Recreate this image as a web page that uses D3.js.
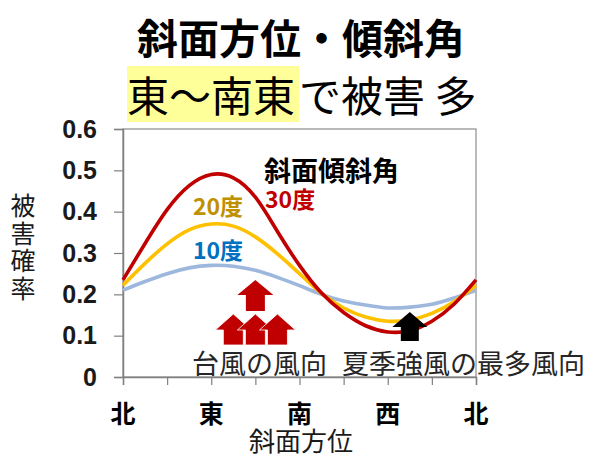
<!DOCTYPE html>
<html>
<head>
<meta charset="utf-8">
<script src="https://cdn.jsdelivr.net/npm/d3@7"></script>
<style>
  body { margin: 0; background: #fff; }
  text { font-family: "Noto Sans CJK JP", "Noto Sans", sans-serif; }
</style>
</head>
<body>
<svg id="chart" width="596" height="458"></svg>
<script>
// aspect in degrees (0 = north)
var aspects = [0, 22.5, 45, 67.5, 90, 112.5, 135, 157.5, 180, 202.5, 225, 247.5, 270, 292.5, 315, 337.5, 360];

var slope30 = [0.235, 0.323, 0.405, 0.463, 0.49, 0.482, 0.435, 0.352, 0.27, 0.203, 0.156, 0.124, 0.109, 0.112, 0.135, 0.176, 0.235];
var slope20 = [0.222, 0.275, 0.322, 0.356, 0.37, 0.365, 0.339, 0.298, 0.25, 0.202, 0.167, 0.145, 0.135, 0.138, 0.154, 0.182, 0.222];
var slope10 = [0.21, 0.231, 0.25, 0.264, 0.27, 0.268, 0.258, 0.241, 0.221, 0.2, 0.184, 0.174, 0.167, 0.169, 0.176, 0.191, 0.21];

var xTickVals = [0, 45, 90, 135, 180, 225, 270, 315, 360];
var dirLabels = [[0, "北"], [90, "東"], [180, "南"], [270, "西"], [360, "北"]];
var yTicks = [0, 0.1, 0.2, 0.3, 0.4, 0.5, 0.6];

var typhoonTop = [135];
var typhoonRow = [112.5, 135, 157.5];
var summerDir = [292.5];

var svg = d3.select("#chart");

var pL = 123, pR = 476, pT = 129, pB = 377;

var x = d3.scaleLinear().domain([0, 360]).range([pL, pR]);
var y = d3.scaleLinear().domain([0, 0.6]).range([pB, pT]);

// titles
svg.append("text")
    .attr("x", 301).attr("y", 36)
    .attr("text-anchor", "middle").attr("dominant-baseline", "central")
    .style("font-size", "41px").style("font-weight", "bold")
    .text("斜面方位・傾斜角");

var hl = svg.append("rect").attr("fill", "#FFFF99");
var sub1 = svg.append("text")
    .attr("x", 127).attr("y", 93)
    .attr("dominant-baseline", "central")
    .style("font-size", "42px")
    .text("東〜南東");
var w1 = sub1.node().getComputedTextLength();
hl.attr("x", 127).attr("y", 66).attr("width", w1 + 4).attr("height", 56);
svg.append("text")
    .attr("x", 127 + w1 + 4).attr("y", 93)
    .attr("dominant-baseline", "central")
    .style("font-size", "42px")
    .text("で被害 多");

// annotations below the frame line
svg.append("text")
    .attr("x", 192).attr("y", 362)
    .attr("dominant-baseline", "central")
    .style("font-size", "27px").attr("fill", "#262626")
    .text("台風の風向");
svg.append("text")
    .attr("x", 342).attr("y", 362)
    .attr("dominant-baseline", "central")
    .style("font-size", "27px").attr("fill", "#262626")
    .text("夏季強風の最多風向");

// frame
svg.append("rect")
    .attr("x", pL).attr("y", pT)
    .attr("width", pR - pL).attr("height", pB - pT)
    .attr("fill", "none").attr("stroke", "#8c8c8c").attr("stroke-width", 1.2);

// axes
var yAxis = svg.append("g")
    .attr("transform", "translate(" + pL + ",0)")
    .call(d3.axisLeft(y).tickValues(yTicks).tickSize(9).tickFormat(function(d) { return d === 0 ? "0" : d3.format(".1f")(d); }));
yAxis.select(".domain").attr("stroke", "#808080").attr("stroke-width", 1.5);
yAxis.selectAll(".tick line").attr("stroke", "#808080").attr("stroke-width", 1.2);
yAxis.selectAll(".tick text")
    .attr("x", -26)
    .style("font-family", "'Liberation Sans', Arial, sans-serif")
    .style("font-size", "25px").style("font-weight", "bold")
    .attr("fill", "#1a1a1a");

var xAxis = svg.append("g")
    .attr("transform", "translate(0," + pB + ")")
    .call(d3.axisBottom(x).tickValues(xTickVals).tickSize(8).tickFormat(""));
xAxis.select(".domain").attr("stroke", "#808080").attr("stroke-width", 1.5);
xAxis.selectAll(".tick line").attr("stroke", "#808080").attr("stroke-width", 1.2);

svg.selectAll(".dirlab")
    .data(dirLabels).enter().append("text")
    .attr("class", "dirlab")
    .attr("x", function(d) { return x(d[0]); })
    .attr("y", 412)
    .attr("text-anchor", "middle").attr("dominant-baseline", "central")
    .style("font-size", "25px").style("font-weight", "bold")
    .text(function(d) { return d[1]; });

svg.append("text")
    .attr("x", 301).attr("y", 439)
    .attr("text-anchor", "middle").attr("dominant-baseline", "central")
    .style("font-size", "26px").attr("fill", "#1a1a1a")
    .text("斜面方位");

// vertical y title
svg.append("text")
    .attr("x", 23).attr("y", 248)
    .attr("text-anchor", "middle")
    .style("writing-mode", "vertical-rl")
    .style("text-orientation", "upright")
    .style("letter-spacing", "2.5px")
    .style("font-size", "25px").attr("fill", "#1a1a1a")
    .text("被害確率");

// curves
var line = d3.line()
    .x(function(d) { return x(d[0]); })
    .y(function(d) { return y(d[1]); })
    .curve(d3.curveNatural);

var series = [
    { vals: slope10, color: "#9DB7DD" },
    { vals: slope20, color: "#FFC000" },
    { vals: slope30, color: "#C00000" }
];
series.forEach(function(s) {
    svg.append("path")
        .datum(aspects.map(function(a, i) { return [a, s.vals[i]]; }))
        .attr("d", line)
        .attr("fill", "none")
        .attr("stroke", s.color)
        .attr("stroke-width", 3.6);
});

// arrows
function arrow(cx, tipY, headY, baseY, hw, sw) {
    return "M" + cx + "," + tipY +
        "L" + (cx + hw) + "," + headY +
        "L" + (cx + sw) + "," + headY +
        "L" + (cx + sw) + "," + baseY +
        "L" + (cx - sw) + "," + baseY +
        "L" + (cx - sw) + "," + headY +
        "L" + (cx - hw) + "," + headY + "Z";
}
svg.selectAll(".arTop").data(typhoonTop).enter().append("path")
    .attr("d", function(d) { return arrow(x(d), 280, 295, 311, 18, 9.5); })
    .attr("fill", "#C00000");
svg.selectAll(".arRow").data(typhoonRow).enter().append("path")
    .attr("d", function(d) { return arrow(x(d), 314, 330, 345, 18, 10); })
    .attr("fill", "#C00000").attr("stroke", "#fff").attr("stroke-width", 0.8);
svg.selectAll(".arBlk").data(summerDir).enter().append("path")
    .attr("d", function(d) { return arrow(x(d), 312, 327, 341, 17.5, 9); })
    .attr("fill", "#000");

// legend labels
svg.append("text")
    .attr("x", 264).attr("y", 169)
    .attr("dominant-baseline", "central")
    .style("font-size", "27px").style("font-weight", "bold")
    .text("斜面傾斜角");
svg.append("text")
    .attr("x", 265).attr("y", 198)
    .attr("dominant-baseline", "central")
    .style("font-size", "23px").style("font-weight", "bold").attr("fill", "#C00000")
    .text("30度");
svg.append("text")
    .attr("x", 218).attr("y", 205)
    .attr("text-anchor", "middle").attr("dominant-baseline", "central")
    .style("font-size", "23px").style("font-weight", "bold").attr("fill", "#BF9000")
    .text("20度");
svg.append("text")
    .attr("x", 218).attr("y", 249)
    .attr("text-anchor", "middle").attr("dominant-baseline", "central")
    .style("font-size", "23px").style("font-weight", "bold").attr("fill", "#0070C0")
    .text("10度");
</script>
</body>
</html>
